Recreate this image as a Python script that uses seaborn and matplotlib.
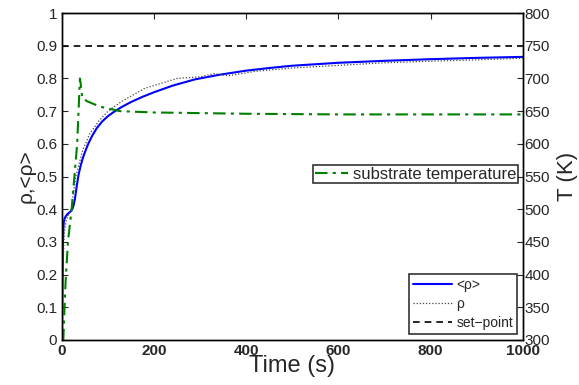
import matplotlib
matplotlib.use("Agg")
import matplotlib.pyplot as plt
import seaborn as sns
import numpy as np
import pandas as pd

# averaged density <rho>
t_avg = [0, 0.5, 1, 2, 3, 4, 6, 8, 12, 16, 20, 24, 28, 32, 36, 40, 45, 50,
         57, 65, 75, 87, 100, 115, 130, 150, 175, 200, 240, 288, 340, 400,
         450, 500, 600, 700, 800, 900, 1000]
rho_avg = [0.0, 0.08, 0.16, 0.29, 0.34, 0.36, 0.372, 0.378, 0.385, 0.39,
           0.395, 0.405, 0.43, 0.47, 0.505, 0.53, 0.555, 0.575, 0.60, 0.623,
           0.647, 0.668, 0.685, 0.70, 0.713, 0.728, 0.744, 0.758, 0.778,
           0.797, 0.811, 0.824, 0.832, 0.839, 0.848, 0.854, 0.859, 0.863,
           0.866]

# instantaneous density rho
t_inst = [0, 2, 5, 10, 20, 30, 45, 60, 80, 100, 130, 180, 250, 300, 330, 360,
          420, 500, 600, 700, 800, 900, 1000]
rho_inst = [0.0, 0.20, 0.33, 0.37, 0.40, 0.50, 0.58, 0.63, 0.67, 0.70, 0.73,
            0.77, 0.80, 0.805, 0.815, 0.808, 0.822, 0.832, 0.840, 0.848,
            0.853, 0.857, 0.862]

# substrate temperature (K)
t_temp = [0, 3, 5, 8, 13, 21, 27, 33, 36, 39, 41, 44, 55, 82, 126, 200, 400,
          600, 800, 1000]
temp = [300, 300, 340, 390, 450, 500, 550, 600, 650, 700, 690, 670, 665, 657,
        650, 648, 646, 645, 645, 645]

setpoint = 0.9
x_range = [0, 1000]

sns.set_style("white")
plt.rcParams['font.family'] = ['Liberation Sans', 'DejaVu Sans']
plt.rcParams['xtick.direction'] = 'in'
plt.rcParams['ytick.direction'] = 'in'

fig = plt.figure(figsize=(5.79, 3.85), dpi=100)
ax = fig.add_axes([0.107, 0.117, 0.796, 0.849])

df_avg = pd.DataFrame({"t": t_avg, "rho": rho_avg})
df_inst = pd.DataFrame({"t": t_inst, "rho": rho_inst})
df_sp = pd.DataFrame({"t": x_range, "rho": [setpoint, setpoint]})

sns.lineplot(data=df_avg, x="t", y="rho", ax=ax, color="#0000ff", lw=1.5,
             label="<ρ>")
sns.lineplot(data=df_inst, x="t", y="rho", ax=ax, color="#444444", lw=0.9,
             linestyle=(0, (1, 1.5)), label="ρ")
sns.lineplot(data=df_sp, x="t", y="rho", ax=ax, color="black", lw=1.2,
             linestyle=(0, (4, 3)), label="set\u2212point")

ax.set_xlim(0, 1000)
ax.set_ylim(0, 1)
ax.set_xticks(np.arange(0, 1001, 200))
ax.set_yticks(np.round(np.arange(0, 1.01, 0.1), 1))
ax.set_yticklabels(["0", "0.1", "0.2", "0.3", "0.4", "0.5", "0.6", "0.7",
                    "0.8", "0.9", "1"])
ax.tick_params(axis="y", labelsize=11, length=4, right=False)
ax.tick_params(axis="x", labelsize=11, length=4, top=True, pad=3)
for lb in ax.get_xticklabels():
    lb.set_fontweight("semibold")
ax.set_xlabel("Time (s)", fontsize=17, labelpad=-2)
ax.set_ylabel("ρ,<ρ>", fontsize=15, labelpad=0)
for s in ax.spines.values():
    s.set_color("black")
    s.set_linewidth(1.0)

leg1 = ax.legend(loc="lower right", bbox_to_anchor=(0.988, 0.018),
                 fontsize=10, frameon=True, fancybox=False, handlelength=2.8,
                 borderpad=0.3, labelspacing=0.35, handletextpad=0.3,
                 borderaxespad=0)
leg1.get_frame().set_edgecolor("black")
leg1.get_frame().set_linewidth(1.2)

ax2 = ax.twinx()
df_temp = pd.DataFrame({"t": t_temp, "T": temp})
sns.lineplot(data=df_temp, x="t", y="T", ax=ax2, color="#008000", lw=1.5,
             linestyle=(0, (6, 2.5, 1.5, 2.5)), label="substrate temperature")
ax2.set_ylim(300, 800)
ax2.set_xlim(0, 1000)
ax2.set_yticks(np.arange(300, 801, 50))
ax2.tick_params(axis="y", labelsize=11, length=4, pad=1)
ax2.set_ylabel("T (K)", fontsize=16, labelpad=5)
ax2.set_xlabel("")
for s in ax2.spines.values():
    s.set_color("black")
    s.set_linewidth(1.0)

leg2 = ax2.legend(loc="upper right", bbox_to_anchor=(0.99, 0.535),
                  fontsize=12, frameon=True, fancybox=False, handlelength=2.0,
                  borderpad=0.1, handletextpad=0.3, borderaxespad=0)
leg2.get_frame().set_edgecolor("black")
leg2.get_frame().set_linewidth(1.2)

fig.savefig("out.png", dpi=100)
